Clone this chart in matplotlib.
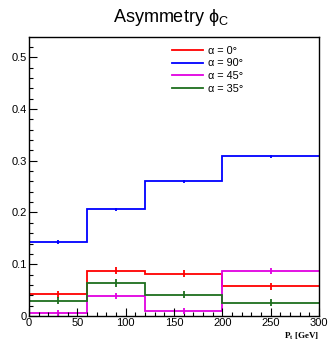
import matplotlib
matplotlib.use("Agg")
import matplotlib.pyplot as plt
import numpy as np
from matplotlib.ticker import MultipleLocator, FuncFormatter

plt.rcParams['font.family'] = ['Liberation Sans', 'DejaVu Sans']

edges = [0, 60, 120, 200, 300]
labels = ["α = 0°", "α = 90°", "α = 45°", "α = 35°"]
colors = ["#ff0000", "#0000ff", "#e100e1", "#1e6e1e"]
vals_0 = [0.042, 0.0875, 0.082, 0.057]
vals_90 = [0.143, 0.2066, 0.260, 0.309]
vals_45 = [0.0064, 0.039, 0.0097, 0.087]
vals_35 = [0.0295, 0.0637, 0.041, 0.0257]
err_0 = [0.007, 0.007, 0.007, 0.007]
err_90 = [0.003, 0.003, 0.003, 0.003]
err_45 = [0.006, 0.006, 0.006, 0.006]
err_35 = [0.007, 0.007, 0.007, 0.007]

series = [vals_0, vals_90, vals_45, vals_35]
errs = [err_0, err_90, err_45, err_35]

fig = plt.figure(figsize=(3.28, 3.43), dpi=100)
ax = fig.add_axes([29/328, 1-316/343, 290/328, 279/343])

e = np.array(edges, dtype=float)
centers = (e[:-1] + e[1:]) / 2
for v, er, c, lab in zip(series, errs, colors, labels):
    ax.stairs(v, e, baseline=None, color=c, lw=1.3, label=lab)
    ax.errorbar(centers, v, yerr=er, fmt='none', ecolor=c, elinewidth=1.3, capsize=0)

ax.set_xlim(0, 300)
ax.set_ylim(0, 0.539)
ax.xaxis.set_major_locator(MultipleLocator(50))
ax.xaxis.set_minor_locator(MultipleLocator(10))
ax.yaxis.set_major_locator(MultipleLocator(0.1))
ax.yaxis.set_minor_locator(MultipleLocator(0.02))
ax.yaxis.set_major_formatter(FuncFormatter(lambda x, p: "0" if abs(x) < 1e-9 else f"{x:.1f}"))
ax.tick_params(which='both', direction='in', top=False, right=False, labelsize=8, width=0.8, pad=1.5)
ax.tick_params(which='major', length=6)
ax.tick_params(which='minor', length=3)
for s in ax.spines.values():
    s.set_linewidth(1.0)

leg = ax.legend(loc='upper left', bbox_to_anchor=(0.477, 0.985), frameon=False, fontsize=7.8,
                handlelength=2.9, handletextpad=0.45, labelspacing=0.26, borderaxespad=0)

fig.text(171/328, 1-18/343, "Asymmetry ϕ$_\\mathregular{C}$", ha='center', va='center', fontsize=13)
fig.text(319/328, 1-336/343, "P$_\\mathregular{t}$ [GeV]", ha='right', va='center', fontsize=6.5,
         fontweight='bold', family=['Liberation Serif', 'DejaVu Serif'])

fig.savefig("out.png", dpi=100)
